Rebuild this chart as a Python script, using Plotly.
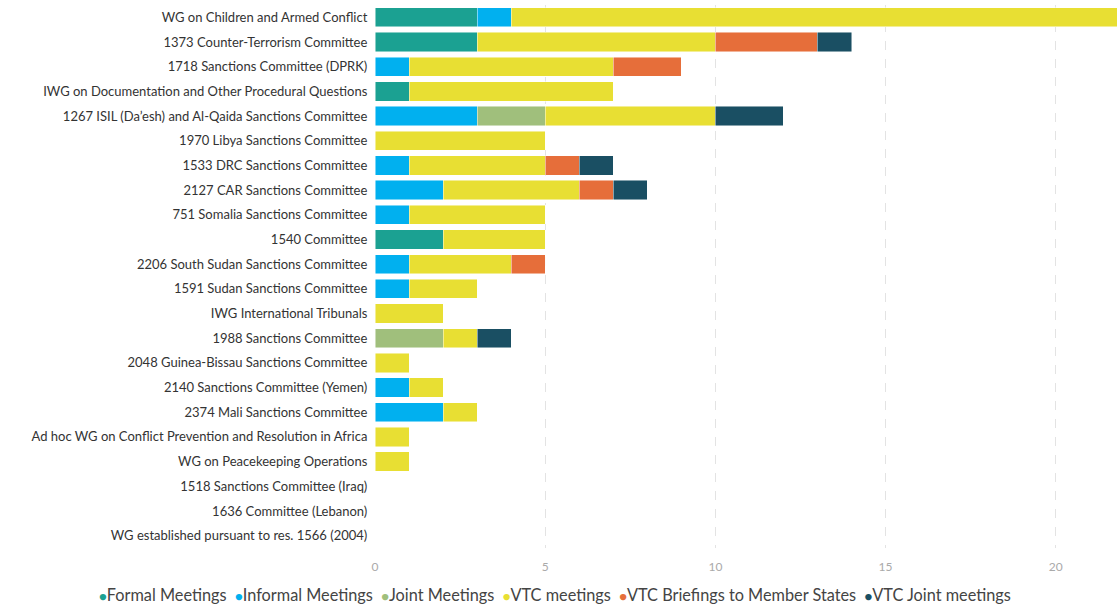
import plotly.graph_objects as go

categories = [
    "WG on Children and Armed Conflict",
    "1373 Counter-Terrorism Committee",
    "1718 Sanctions Committee (DPRK)",
    "IWG on Documentation and Other Procedural Questions",
    "1267 ISIL (Da\u2019esh) and Al-Qaida Sanctions Committee",
    "1970 Libya Sanctions Committee",
    "1533 DRC Sanctions Committee",
    "2127 CAR Sanctions Committee",
    "751 Somalia Sanctions Committee",
    "1540 Committee",
    "2206 South Sudan Sanctions Committee",
    "1591 Sudan Sanctions Committee",
    "IWG International Tribunals",
    "1988 Sanctions Committee",
    "2048 Guinea-Bissau Sanctions Committee",
    "2140 Sanctions Committee (Yemen)",
    "2374 Mali Sanctions Committee",
    "Ad hoc WG on Conflict Prevention and Resolution in Africa",
    "WG on Peacekeeping Operations",
    "1518 Sanctions Committee (Iraq)",
    "1636 Committee (Lebanon)",
    "WG established pursuant to res. 1566 (2004)",
]

formal_meetings   = [3, 3, 0, 1, 0, 0, 0, 0, 0, 2, 0, 0, 0, 0, 0, 0, 0, 0, 0, 0, 0, 0]
informal_meetings = [1, 0, 1, 0, 3, 0, 1, 2, 1, 0, 1, 1, 0, 0, 0, 1, 2, 0, 0, 0, 0, 0]
joint_meetings    = [0, 0, 0, 0, 2, 0, 0, 0, 0, 0, 0, 0, 0, 2, 0, 0, 0, 0, 0, 0, 0, 0]
vtc_meetings      = [18, 7, 6, 6, 5, 5, 4, 4, 4, 3, 3, 2, 2, 1, 1, 1, 1, 1, 1, 0, 0, 0]
vtc_briefings     = [0, 3, 2, 0, 0, 0, 1, 1, 0, 0, 1, 0, 0, 0, 0, 0, 0, 0, 0, 0, 0, 0]
vtc_joint         = [0, 1, 0, 0, 2, 0, 1, 1, 0, 0, 0, 0, 0, 1, 0, 0, 0, 0, 0, 0, 0, 0]

series_names  = ["Formal Meetings", "Informal Meetings", "Joint Meetings",
                 "VTC meetings", "VTC Briefings to Member States", "VTC Joint meetings"]
series_values = [formal_meetings, informal_meetings, joint_meetings,
                 vtc_meetings, vtc_briefings, vtc_joint]
series_colors = ["#1BA192", "#01B0EF", "#A0BF7C", "#E8DF33", "#E66E3A", "#1A4F63"]

x_ticks = [0, 5, 10, 15, 20]

FONT = "Lato"

fig = go.Figure()
for name, vals, color in zip(series_names, series_values, series_colors):
    fig.add_trace(go.Bar(
        y=categories, x=vals, name=name, orientation="h",
        marker=dict(color=color, line=dict(color="rgba(255,255,255,0.6)", width=0.8)),
    ))

legend_text = "&nbsp;&nbsp;".join(
    f"<span style='color:{c};font-size:13px'>\u25CF</span>{n}"
    for n, c in zip(series_names, series_colors)
)
fig.add_annotation(
    text=legend_text, xref="paper", yref="paper",
    x=-0.3747, y=-0.086, xanchor="left", yanchor="middle",
    showarrow=False, font=dict(family=FONT, size=16.3, color="#444444"),
)

fig.update_layout(
    barmode="stack",
    bargap=0.22,
    width=1117, height=604,
    margin=dict(l=375, r=0, t=5, b=56),
    paper_bgcolor="white", plot_bgcolor="white",
    font=dict(family=FONT, size=13, color="#444444"),
    showlegend=False,
    xaxis=dict(range=[0, 21.8], tickvals=x_ticks, showgrid=True,
               gridcolor="#e3e3e3", griddash="dash", gridwidth=1,
               zeroline=False, showline=False, ticks="",
               ticklabelstandoff=10,
               tickfont=dict(family=FONT, size=12, color="#aaaaaa")),
    yaxis=dict(categoryorder="array", categoryarray=categories, autorange="reversed",
               showgrid=False, zeroline=False, showline=False, ticks="",
               ticksuffix="  ",
               tickfont=dict(family=FONT, size=13, color="#333333")),
)

fig.write_html("out.html", config={"displayModeBar": False},
               post_script="document.body.style.margin='0';")
